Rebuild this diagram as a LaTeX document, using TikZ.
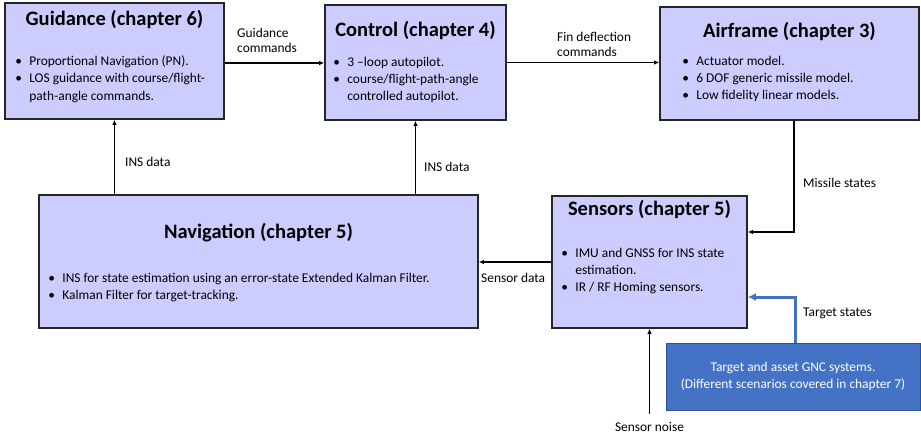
\documentclass[tikz,border=0pt]{standalone}
\usepackage{fontspec}
\setmainfont{Carlito}
\usepackage{tikz}
\usetikzlibrary{arrows.meta, positioning, calc}

\definecolor{blk_fill}{RGB}{204, 204, 255}
\definecolor{tgt_blue}{RGB}{68, 114, 196}
\definecolor{tgt_edge}{RGB}{47, 82, 143}

% bullet lists inside the blocks
\newcommand{\bul}{\makebox[14pt][l]{\textbullet}}
\newcommand{\bulletlist}[1]{{\renewcommand{\arraystretch}{1.45}%
  \begin{tabular}{@{}l@{}l@{}}#1\end{tabular}}}

\begin{document}
\begin{tikzpicture}[x=1pt, y=-1pt,
    block/.style={rectangle, draw=black!85, line width=1.6pt, fill=blk_fill, inner sep=0pt},
    extblock/.style={rectangle, draw=tgt_edge, line width=0.6pt, fill=tgt_blue,
                     inner sep=0pt, text=white, align=center,
                     font=\fontsize{13.4}{17}\selectfont},
    head/.style={font=\fontsize{20.5}{24}\selectfont\bfseries, inner sep=0pt},
    body/.style={font=\fontsize{13.4}{12}\selectfont, inner sep=0pt, anchor=north west},
    lbl/.style={font=\fontsize{13.4}{15}\selectfont, inner sep=0pt, align=left},
    flow/.style={-{Latex[length=5pt,width=4.5pt]}, line width=1.3pt},
    tflow/.style={-{Latex[length=8pt,width=8pt]}, line width=3pt, tgt_blue},
  ]
  \useasboundingbox (0,0) rectangle (921,436);

  % blocks
  \node[block, minimum width=219pt, minimum height=116pt] (guid) at (114.5,61)  {};
  \node[block, minimum width=181pt, minimum height=115pt] (ctrl) at (415.5,62.5) {};
  \node[block, minimum width=259pt, minimum height=113pt] (air)  at (789.5,63.5) {};
  \node[block, minimum width=439pt, minimum height=133pt] (nav)  at (258.5,261.5) {};
  \node[block, minimum width=195pt, minimum height=132pt] (sens) at (649.5,262) {};
  \node[extblock, minimum width=254pt, minimum height=67pt] (tgt) at (793,376.5)
    {Target and asset GNC systems.\\(Different scenarios covered in chapter 7)};

  % block titles
  \node[head] (guidhead) at ([yshift=-17pt]guid.north) {Guidance (chapter 6)};
  \node[head] (ctrlhead) at ([yshift=-26pt]ctrl.north) {Control (chapter 4)};
  \node[head] (airhead)  at ([yshift=-25pt]air.north)  {Airframe (chapter 3)};
  \node[head] (navhead)  at ([yshift=-38pt]nav.north)  {Navigation (chapter 5)};
  \node[head] (senshead) at ([yshift=-14pt]sens.north) {Sensors (chapter 5)};

  % block contents
  \node[body] (guidtxt) at ([xshift=11pt,yshift=-51pt]guid.north west) {\bulletlist{
    \bul & Proportional Navigation (PN).\\
    \bul & LOS guidance with course/flight-\\
         & path-angle commands.}};
  \node[body] (ctrltxt) at ([xshift=9pt,yshift=-49.5pt]ctrl.north west) {\bulletlist{
    \bul & 3 --loop autopilot.\\
    \bul & course/flight-path-angle\\
         & controlled autopilot.}};
  \node[body] (airtxt) at ([xshift=23pt,yshift=-46.5pt]air.north west) {\bulletlist{
    \bul & Actuator model.\\
    \bul & 6 DOF generic missile model.\\
    \bul & Low fidelity linear models.}};
  \node[body] (navtxt) at ([xshift=10pt,yshift=-76pt]nav.north west) {\bulletlist{
    \bul & INS for state estimation using an error-state Extended Kalman Filter.\\
    \bul & Kalman Filter for target-tracking.}};
  \node[body] (senstxt) at ([xshift=10pt,yshift=-49.5pt]sens.north west) {\bulletlist{
    \bul & IMU and GNSS for INS state\\
         & estimation.\\
    \bul & IR / RF Homing sensors.}};

  % signal labels
  \node[lbl, anchor=west] (guidcmd)  at (237,40)   {Guidance\\commands};
  \node[lbl, anchor=west] (fincmd)   at (557,44.5) {Fin deflection\\commands};
  \node[lbl, anchor=west] (insone)   at (125,162)  {INS data};
  \node[lbl, anchor=west] (instwo)   at (424,167)  {INS data};
  \node[lbl, anchor=west] (misstate) at (803,183)  {Missile states};
  \node[lbl, anchor=west] (sensdata) at (481,278)  {Sensor data};
  \node[lbl, anchor=west] (tgtstate) at (803,313)  {Target states};
  \node[lbl] (noise) at (649.5,427) {Sensor noise};

  % signal flow
  \draw[flow] ([yshift=-2pt]guid.east) -- ([yshift=-2pt]guid.east -| ctrl.west);
  \draw[flow] (ctrl.east) -- (ctrl.east -| air.west);
  \draw[flow] ([xshift=4.5pt]air.south) |- ([yshift=30pt]sens.east);
  \draw[flow] (sens.west) -- (sens.west -| nav.east);
  \draw[flow] (guid.south |- nav.north) -- (guid.south);
  \draw[flow] (ctrl.south |- nav.north) -- (ctrl.south);
  \draw[flow, shorten <=8pt] (noise.north) -- (sens.south);
  \draw[tflow] ([xshift=2pt]tgt.north) |- ([yshift=-35pt]sens.east);
\end{tikzpicture}
\end{document}
